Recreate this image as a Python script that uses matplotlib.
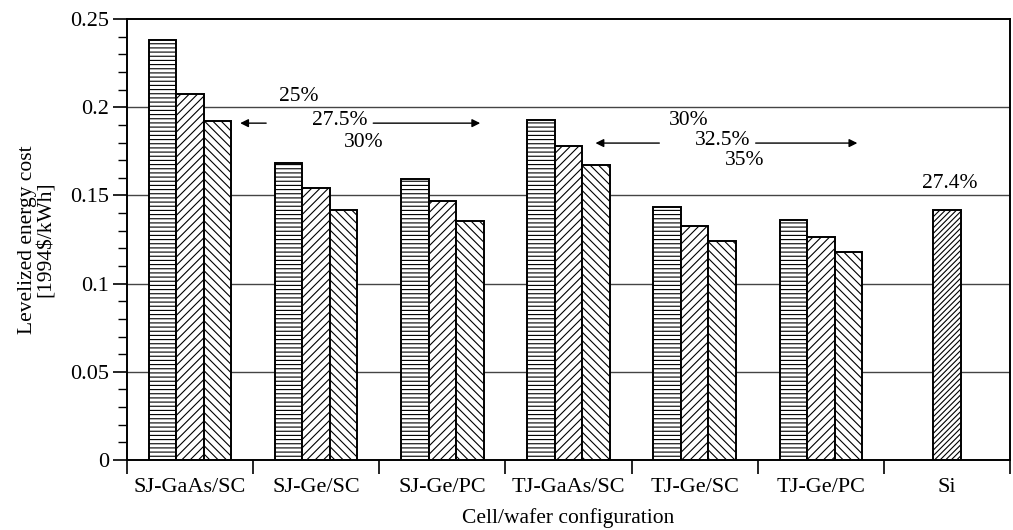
import numpy as np
import matplotlib
matplotlib.use("Agg")
import matplotlib.pyplot as plt
from matplotlib.ticker import MultipleLocator, FixedLocator, NullFormatter

# ---- data ----
categories = ["SJ-GaAs/SC", "SJ-Ge/SC", "SJ-Ge/PC", "TJ-GaAs/SC", "TJ-Ge/SC", "TJ-Ge/PC", "Si"]
cost_low = [0.238, 0.1685, 0.1595, 0.193, 0.1434, 0.136, np.nan]     # lowest efficiency
cost_mid = [0.2075, 0.154, 0.147, 0.178, 0.1326, 0.1265, 0.1415]
cost_high = [0.192, 0.142, 0.1355, 0.1675, 0.1244, 0.118, np.nan]   # highest efficiency

plt.rcParams['font.family'] = ['Liberation Serif', 'DejaVu Serif']
plt.rcParams['hatch.linewidth'] = 0.8

fig = plt.figure(figsize=(10.13, 5.30), dpi=100)
ax = fig.add_axes([0.1254, 0.132, 0.8716, 0.832])

x = np.arange(len(categories))
w = 0.218
bar_kw = dict(width=w, color='white', edgecolor='black', linewidth=1.4)
ax.bar(x - w, cost_low, hatch='----', **bar_kw)
mid_hatch = ['////'] * 6 + ['//////']
for xi, v, h in zip(x, cost_mid, mid_hatch):
    ax.bar(xi, v, hatch=h, **bar_kw)
ax.bar(x + w, cost_high, hatch='\\\\\\\\', **bar_kw)

# gridlines
for g in [0.05, 0.1, 0.15, 0.2]:
    ax.axhline(g, color='#444444', linewidth=1.0, zorder=0)

ax.set_xlim(-0.5, len(categories) - 0.5)
ax.set_ylim(0, 0.25)

# y ticks
ax.yaxis.set_minor_locator(MultipleLocator(0.01))
ax.set_yticks([0, 0.05, 0.1, 0.15, 0.2, 0.25])
ax.set_yticklabels(['0', '0.05', '0.1', '0.15', '0.2', '0.25'])
ax.tick_params(axis='y', which='major', direction='out', length=10, width=1.2, labelsize=16, pad=3)
ax.tick_params(axis='y', which='minor', direction='out', length=6.5, width=1.0)

# x ticks: labels at centres, marks at group boundaries
ax.set_xticks(x)
ax.set_xticklabels(categories)
ax.xaxis.set_minor_locator(FixedLocator(np.arange(-0.5, len(categories), 1.0)))
ax.xaxis.set_minor_formatter(NullFormatter())
ax.tick_params(axis='x', which='major', length=0, labelsize=16, pad=13)
ax.tick_params(axis='x', which='minor', direction='out', length=10, width=1.2)

for s in ax.spines.values():
    s.set_linewidth(1.4)

ax.set_xlabel("Cell/wafer configuration", fontsize=15.5, labelpad=8)
ax.set_ylabel("Levelized energy cost\n[1994$/kWh]", fontsize=15.5, labelpad=10, linespacing=1.0)

# efficiency annotations
txt = dict(fontsize=15.5, ha='center', va='center')
ax.text(0.865, 0.2063, "25%", **txt)
ax.text(1.19, 0.1927, "27.5%", **txt)
ax.text(1.38, 0.1803, "30%", **txt)
ax.text(3.952, 0.1927, "30%", **txt)
ax.text(4.22, 0.1814, "32.5%", **txt)
ax.text(4.397, 0.170, "35%", **txt)

arr = dict(arrowstyle='-|>', color='black', lw=1.0, mutation_scale=12, shrinkA=0, shrinkB=0)
ax.annotate("", xy=(0.397, 0.191), xytext=(0.603, 0.191), arrowprops=arr)
ax.annotate("", xy=(2.30, 0.191), xytext=(1.452, 0.191), arrowprops=arr)
ax.annotate("", xy=(3.214, 0.1797), xytext=(3.72, 0.1797), arrowprops=arr)
ax.annotate("", xy=(5.29, 0.1797), xytext=(4.484, 0.1797), arrowprops=arr)

# Si label
ax.text(6.02, 0.157, "27.4%", **txt)

fig.savefig("out.png", dpi=100)
